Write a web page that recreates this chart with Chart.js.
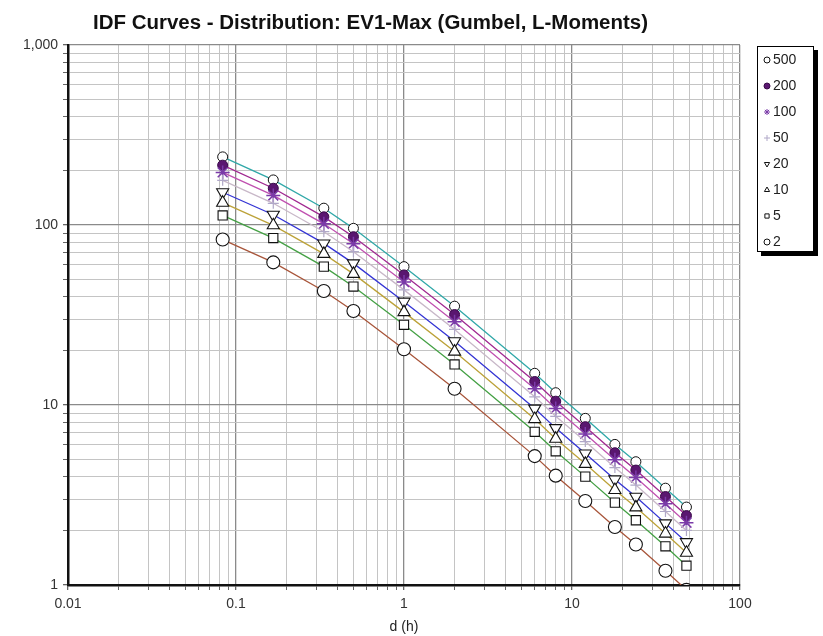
<!DOCTYPE html>
<html>
<head>
<meta charset="utf-8">
<script src="https://cdn.jsdelivr.net/npm/chart.js@4/dist/chart.umd.min.js"></script>
<style>
  html, body { margin: 0; padding: 0; background: #fff; }
  #wrap { position: relative; width: 823px; height: 636px; }
</style>
</head>
<body>
<div id="wrap"><canvas id="c" width="823" height="636"></canvas></div>
<script>
// ---- data ----
const durations = [0.0833, 0.1667, 0.3333, 0.5, 1, 2, 6, 8, 12, 18, 24, 36, 48];
const returnPeriods = ['500', '200', '100', '50', '20', '10', '5', '2'];
const T500 = [239, 178, 124, 95.8, 58.7, 35.4, 15.0, 11.7, 8.43, 6.04, 4.84, 3.45, 2.71];
const T200 = [215, 160, 111, 86.1, 52.8, 31.8, 13.5, 10.5, 7.58, 5.43, 4.35, 3.10, 2.43];
const T100 = [196, 146, 101.5, 78.6, 48.2, 29.0, 12.3, 9.56, 6.91, 4.96, 3.96, 2.83, 2.22];
const T50  = [177, 132, 91.8, 71.1, 43.6, 26.3, 11.1, 8.65, 6.26, 4.49, 3.59, 2.56, 2.01];
const T20  = [152, 114, 79.0, 61.2, 37.5, 22.6, 9.55, 7.44, 5.38, 3.86, 3.09, 2.20, 1.73];
const T10  = [133, 99.6, 69.1, 53.5, 32.8, 19.8, 8.35, 6.50, 4.71, 3.37, 2.70, 1.93, 1.51];
const T5   = [113, 84.6, 58.7, 45.5, 27.9, 16.8, 7.10, 5.53, 4.00, 2.87, 2.29, 1.64, 1.28];
const T2   = [83, 62, 43, 33.3, 20.4, 12.3, 5.2, 4.05, 2.93, 2.10, 1.68, 1.20, 0.94];
const xMajorTicks = [0.01, 0.1, 1, 10, 100];
const yMajorTicks = [1, 10, 100, 1000];
const xTickLabels = ['0.01', '0.1', '1', '10', '100'];
const yTickLabels = ['1', '10', '100', '1,000'];
const titleText = 'IDF Curves - Distribution: EV1-Max (Gumbel, L-Moments)';
const xAxisTitle = 'd (h)';

// ---- styles ----
const seriesValues = [T500, T200, T100, T50, T20, T10, T5, T2];
const styles = [
  { line: '#30a8a8', pointStyle: 'circle', r: 5, bg: '#ffffff', bc: '#111', bw: 1, rot: 0 },
  { line: '#a02890', pointStyle: 'circle', r: 5, bg: '#5a1670', bc: '#3a0a4a', bw: 1, rot: 0 },
  { line: '#c050b0', pointStyle: 'star', r: 7, bg: '#7a3aa8', bc: '#7a3aa8', bw: 1.5, rot: 0 },
  { line: '#c8b8c8', pointStyle: 'cross', r: 5.5, bg: '#b0a8c8', bc: '#b0a8c8', bw: 1.2, rot: 0 },
  { line: '#3434d4', pointStyle: 'triangle', r: 7, bg: '#ffffff', bc: '#111', bw: 1.1, rot: 180 },
  { line: '#bca238', pointStyle: 'triangle', r: 7, bg: '#ffffff', bc: '#111', bw: 1.1, rot: 0 },
  { line: '#44a044', pointStyle: 'rect', r: 6.5, bg: '#ffffff', bc: '#111', bw: 1.1, rot: 0 },
  { line: '#a8553a', pointStyle: 'circle', r: 6.5, bg: '#ffffff', bc: '#111', bw: 1.1, rot: 0 }
];

const datasets = returnPeriods.map((lbl, k) => ({
  label: lbl,
  data: durations.map((d, i) => ({ x: d, y: seriesValues[k][i] })),
  borderColor: styles[k].line,
  borderWidth: 1.3,
  tension: 0,
  pointStyle: styles[k].pointStyle,
  pointRadius: styles[k].r,
  pointBackgroundColor: styles[k].bg,
  pointBorderColor: styles[k].bc,
  pointBorderWidth: styles[k].bw,
  pointRotation: styles[k].rot,
  order: returnPeriods.length - k
}));

function buildTicks(majors) {
  const out = [];
  for (let i = 0; i < majors.length; i++) {
    out.push(majors[i]);
    if (i < majors.length - 1) {
      for (let m = 2; m <= 9; m++) out.push(+(majors[i] * m).toPrecision(6));
    }
  }
  return out;
}
function isMajor(v, majors) { return majors.some(m => Math.abs(m - v) / m < 1e-6); }
function labelFor(v, majors, labels) {
  const i = majors.findIndex(m => Math.abs(m - v) / m < 1e-6);
  return i >= 0 ? labels[i] : '';
}

const titlePlugin = {
  id: 'titleDraw',
  afterDraw(chart) {
    const ctx = chart.ctx;
    ctx.save();
    ctx.font = 'bold 20px "Liberation Sans Narrow", "Liberation Sans", Arial, sans-serif';
    ctx.fillStyle = '#111';
    ctx.textBaseline = 'middle';
    const w = ctx.measureText(titleText).width;
    const target = 555;
    ctx.translate(93, 23);
    ctx.scale(target / w, 1);
    ctx.fillText(titleText, 0, 0);
    ctx.restore();
  }
};

const legendPlugin = {
  id: 'legendDraw',
  afterDraw(chart) {
    const ctx = chart.ctx;
    const x0 = 757, y0 = 46, w = 57, h = 206;
    ctx.save();
    ctx.fillStyle = '#000';
    ctx.fillRect(x0 + 4, y0 + 4, w, h);
    ctx.fillStyle = '#fff';
    ctx.fillRect(x0, y0, w, h);
    ctx.strokeStyle = '#000';
    ctx.lineWidth = 1;
    ctx.strokeRect(x0 + 0.5, y0 + 0.5, w - 1, h - 1);
    ctx.font = '14px "Liberation Sans", Arial, sans-serif';
    ctx.textBaseline = 'middle';
    returnPeriods.forEach((lbl, k) => {
      const y = 60 + k * 26;
      const s = styles[k];
      ctx.save();
      ctx.strokeStyle = s.bc;
      ctx.fillStyle = s.bg;
      ctx.lineWidth = 1;
      Chart.helpers.drawPoint(ctx, { pointStyle: s.pointStyle, radius: 3, rotation: s.rot, borderWidth: 1 }, 767, y);
      ctx.restore();
      ctx.fillStyle = '#222';
      ctx.fillText(lbl, 773, y);
    });
    ctx.restore();
  }
};

const xTicks = buildTicks(xMajorTicks);
const yTicks = buildTicks(yMajorTicks);

new Chart(document.getElementById('c'), {
  type: 'line',
  data: { datasets },
  plugins: [titlePlugin, legendPlugin],
  options: {
    responsive: false,
    animation: false,
    layout: { padding: { left: 0, right: 83, top: 45, bottom: 0 } },
    plugins: { legend: { display: false }, title: { display: false }, tooltip: { enabled: false } },
    scales: {
      x: {
        type: 'logarithmic',
        min: 0.01, max: 100,
        afterBuildTicks: s => { s.ticks = xTicks.map(v => ({ value: v })); },
        afterFit: s => { s.height = 51; },
        ticks: {
          autoSkip: false, maxRotation: 0, padding: 6,
          color: '#333',
          font: { family: '"Liberation Sans", Arial, sans-serif', size: 14 },
          callback: v => labelFor(v, xMajorTicks, xTickLabels)
        },
        grid: {
          color: c => isMajor(c.tick.value, xMajorTicks) ? '#8a8a8a' : '#c4c4c4',
          lineWidth: c => isMajor(c.tick.value, xMajorTicks) ? 1.3 : 1,
          tickColor: '#666', tickLength: 5
        },
        border: { color: '#111', width: 2.5 },
        title: {
          display: true, text: xAxisTitle, color: '#222', padding: { top: 0, bottom: 0 },
          font: { family: '"Liberation Sans", Arial, sans-serif', size: 14 }
        }
      },
      y: {
        type: 'logarithmic',
        min: 1, max: 1000,
        afterBuildTicks: s => { s.ticks = yTicks.map(v => ({ value: v })); },
        afterFit: s => { s.width = 68; },
        ticks: {
          autoSkip: false, padding: 5,
          color: '#333',
          font: { family: '"Liberation Sans", Arial, sans-serif', size: 14 },
          callback: v => labelFor(v, yMajorTicks, yTickLabels)
        },
        grid: {
          color: c => isMajor(c.tick.value, yMajorTicks) ? '#8a8a8a' : '#c4c4c4',
          lineWidth: c => isMajor(c.tick.value, yMajorTicks) ? 1.3 : 1,
          tickColor: '#666', tickLength: 5
        },
        border: { color: '#111', width: 2.5 }
      }
    }
  }
});
</script>
</body>
</html>
